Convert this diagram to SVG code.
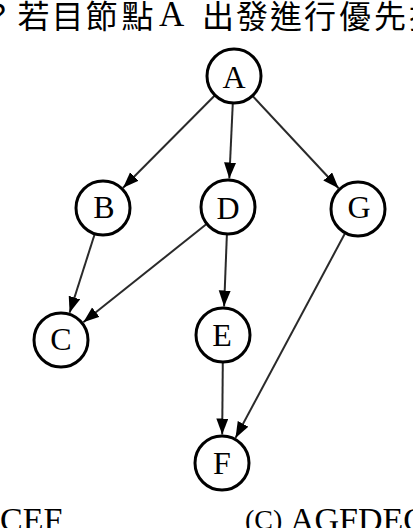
<svg xmlns="http://www.w3.org/2000/svg" width="413" height="528" viewBox="0 0 413 528">
<style>
.cjk{font-family:"Liberation Serif","Noto Sans CJK TC",serif;font-size:32px;fill:#000}
.lat{font-family:"Liberation Serif",serif;fill:#000}
.node circle{fill:#fff;stroke:#000;stroke-width:3}
.node text{font-family:"Liberation Serif",serif;font-size:32px;text-anchor:middle;dominant-baseline:central;fill:#000}
.edge{stroke:#2a2a2a;stroke-width:2;fill:none;marker-end:url(#arr)}
</style>
<defs>
<marker id="arr" markerUnits="userSpaceOnUse" markerWidth="17" markerHeight="13" refX="16" refY="6" orient="auto" viewBox="0 0 17 13">
<path d="M0,0 L16,6 L0,12 z" fill="#000"/>
</marker>
</defs>
<rect width="413" height="528" fill="#fff"/>
<text class="cjk" text-anchor="middle" y="28" x="-3 33.5 67.5 101.5 137.5">？若目節點</text>
<text class="lat" x="159" y="26" font-size="35">A</text>
<text class="cjk" text-anchor="middle" y="28" x="218 252 286 320 355 390 425">出發進行優先搜</text>
<text class="lat" x="0" y="531" font-size="34">CEF</text>
<text class="lat" x="245" y="529" font-size="28">(C)</text>
<text class="lat" x="290" y="531" font-size="34">AGFDEC</text>
<g id="connectors">
<line class="edge" x1="215" y1="95.2" x2="123.1" y2="187.8"/>
<line class="edge" x1="232.8" y1="103" x2="229.3" y2="178.5"/>
<line class="edge" x1="252.4" y1="95.8" x2="338.6" y2="188.2"/>
<line class="edge" x1="94.8" y1="233.7" x2="69.6" y2="312.8"/>
<line class="edge" x1="206.9" y1="223.8" x2="83.3" y2="322.2"/>
<line class="edge" x1="226.9" y1="234" x2="224.1" y2="306.5"/>
<line class="edge" x1="345.3" y1="232.8" x2="235.5" y2="437.9"/>
<line class="edge" x1="222.8" y1="362" x2="222.2" y2="434.5"/>
</g>
<g id="node-A" class="node"><circle cx="234" cy="76" r="27"/><text x="234" y="77">A</text></g>
<g id="node-B" class="node"><circle cx="103" cy="208" r="27"/><text x="104" y="207">B</text></g>
<g id="node-D" class="node"><circle cx="228" cy="207" r="27"/><text x="228" y="208">D</text></g>
<g id="node-G" class="node"><circle cx="358" cy="209" r="27"/><text x="359" y="207">G</text></g>
<g id="node-C" class="node"><circle cx="61" cy="340" r="27"/><text x="61" y="339">C</text></g>
<g id="node-E" class="node"><circle cx="223" cy="335" r="27"/><text x="222" y="335">E</text></g>
<g id="node-F" class="node"><circle cx="222" cy="463" r="27"/><text x="222" y="463">F</text></g>
</svg>
